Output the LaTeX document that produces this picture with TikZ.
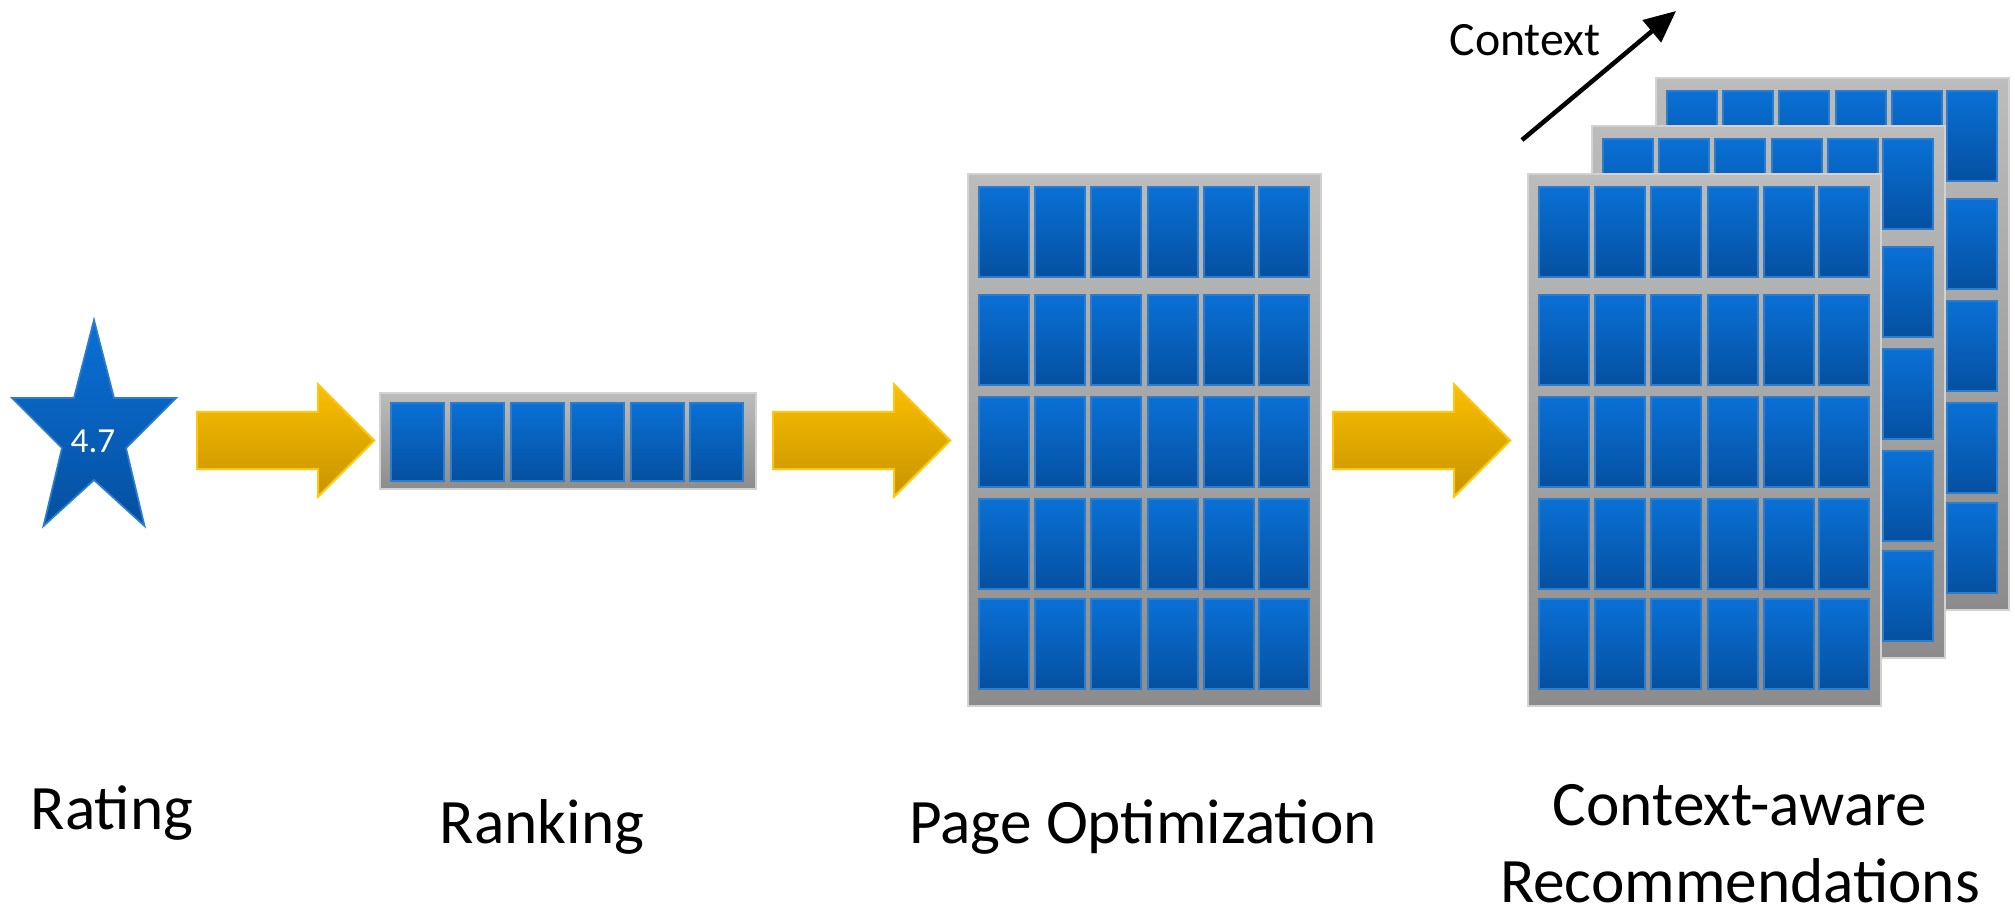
\documentclass[tikz,border=0pt]{standalone}
\usepackage{fontspec}
\setmainfont{Carlito}
\usepackage{xcolor}
\usetikzlibrary{arrows.meta, shapes.arrows}

\definecolor{tileTop}{RGB}{10,112,214}
\definecolor{tileBot}{RGB}{5,80,160}
\definecolor{tileEdge}{RGB}{45,125,205}
\definecolor{frameTop}{RGB}{188,188,188}
\definecolor{frameBot}{RGB}{140,140,140}
\definecolor{frameEdge}{RGB}{210,210,210}
\definecolor{flowTop}{RGB}{250,190,0}
\definecolor{flowBot}{RGB}{198,148,0}
\definecolor{flowEdge}{RGB}{255,196,20}

\begin{document}
\begin{tikzpicture}[
    x=0.01cm, y=-0.01cm,
    frame/.style={anchor=north west, inner sep=0pt, draw=frameEdge, line width=0.6pt,
      top color=frameTop, bottom color=frameBot},
    tile/.style={anchor=north west, inner sep=0pt, draw=tileEdge, line width=0.5pt,
      top color=tileTop, bottom color=tileBot},
    flow/.style={single arrow, anchor=tail, inner sep=0pt, draw=flowEdge, line width=0.6pt,
      top color=flowTop, bottom color=flowBot,
      text width=0pt, text height=0.275cm, text depth=0.275cm,
      minimum height=1.77cm, minimum width=1.10cm,
      single arrow head extend=0.275cm, single arrow tip angle=90},
    steplabel/.style={anchor=base, inner sep=0pt, font=\fontsize{18}{22}\selectfont},
  ]
  \useasboundingbox (0,0) rectangle (2015,909);

  % Rating star
  \path[draw=tileEdge, line width=0.5pt, top color=tileTop, bottom color=tileBot]
    (94,320) -- (114,398) -- (176,398) -- (126,448) -- (144.5,526) -- (94,480)
    -- (43.5,526) -- (62,448) -- (12,398) -- (74,398) -- cycle;
  \node[anchor=base, text=white, font=\fontsize{10}{12}\selectfont] (score) at (93,452) {4.7};

  % Ranking strip
  \node[frame, minimum width=3.76cm, minimum height=0.96cm] (strip) at (379,392) {};
  \foreach \cx [count=\i] in {11,71,131,191,251,310}
    \node[tile, minimum width=0.53cm, minimum height=0.78cm] (strip-\i) at ({379+\cx},402) {};

  % Pages: optimized page, then the context stack (back to front)
  \foreach \pg/\px/\py in {page/967/173, back/1655/77, mid/1591/125, front/1527/173} {
    \node[frame, minimum width=3.53cm, minimum height=5.32cm] (\pg) at (\px,\py) {};
    \foreach \cx [count=\i] in {11,67,123,180,236,291}
      \foreach \ry [count=\j] in {13,121,223,325,425}
        \node[tile, minimum width=0.5cm, minimum height=0.9cm] (\pg-\i-\j) at ({\px+\cx},{\py+\ry}) {};
  }

  % Flow arrows
  \node[flow] (flowA) at (196,440.5) {};
  \node[flow] (flowB) at (772,440.5) {};
  \node[flow] (flowC) at (1332,440.5) {};

  % Context axis
  \coordinate (ctxStart) at (1522,140);
  \coordinate (ctxEnd) at (1676,11);
  \draw[-{Triangle[length=9pt,width=8pt]}, line width=1.3pt] (ctxStart) -- (ctxEnd);
  \node[anchor=base, font=\fontsize{13.6}{16}\selectfont] (ctx) at (1525,55) {Context};

  % Labels
  \node[steplabel] (lblRating) at (112,829) {Rating};
  \node[steplabel] (lblRanking) at (542,843) {Ranking};
  \node[steplabel] (lblPage) at (1143,843) {Page Optimization};
  \node[steplabel] (lblContext) at (1740,825) {Context-aware};
  \node[steplabel] (lblRecs) at (1740,902) {Recommendations};
\end{tikzpicture}
\end{document}
